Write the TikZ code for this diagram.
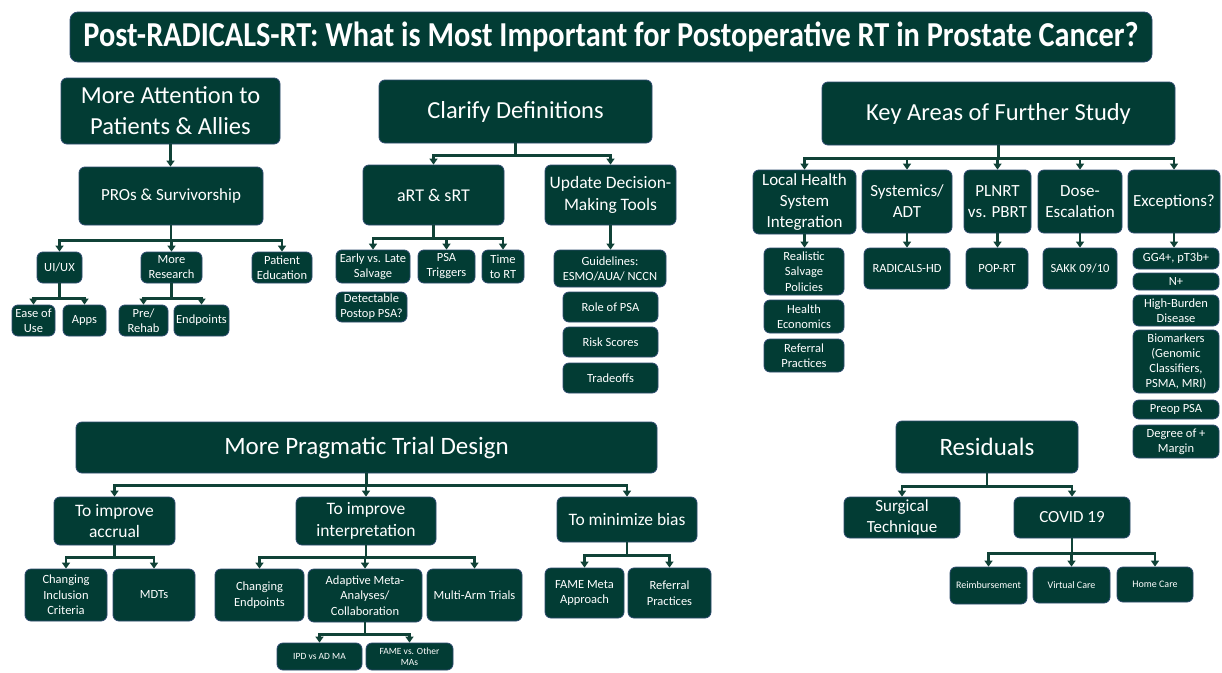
\documentclass[tikz,border=0pt]{standalone}
\usepackage{fontspec}
\setmainfont{Carlito}
\usetikzlibrary{arrows.meta}
\definecolor{bg}{RGB}{2,60,52}
\definecolor{bd}{RGB}{45,75,110}
\definecolor{ln}{RGB}{16,66,55}
\newcommand\fs[2]{\fontsize{#1}{#2}\selectfont}
\newcommand\bx[7]{\node[box,font=#6,minimum width={(#4)-(#2)},minimum height={(#5)-(#3)}] (#1) at ({((#2)+(#4))/2},{((#3)+(#5))/2}) {#7};}
\begin{document}
\begin{tikzpicture}[x=1pt,y=-1pt,
  box/.style={draw=bd,line width=0.8pt,fill=bg,rounded corners=6pt,text=white,align=center,inner sep=1pt},
  arr/.style={draw=ln,line width=2.6pt,-{Triangle[width=8pt,length=6pt]}}]
\fill[white] (0,0) rectangle (1222,672);
\useasboundingbox (0,0) rectangle (1222,672);
% title
\node[box,minimum width=1082pt,minimum height=50pt,rounded corners=8pt] (title) at (611,37)
  {\resizebox{1055pt}{\height}{\fs{35}{38}\bfseries Post-RADICALS-RT: What is Most Important for Postoperative RT in Prostate Cancer?}};
% --- Patients & Allies
\bx{A1}{61}{78}{280}{144}{\fs{24.5}{31}}{More Attention to\\Patients \& Allies}
\bx{A2}{79}{167}{263}{225}{\fs{17}{21}}{PROs \& Survivorship}
\bx{A3}{37}{252}{82}{283}{\fs{12.5}{15}}{UI/UX}
\bx{A4}{141}{252}{202}{283}{\fs{12.5}{15}}{More\\Research}
\bx{A5}{252}{252}{312}{283}{\fs{12.5}{15}}{Patient\\Education}
\bx{A6}{12}{305}{55}{336}{\fs{12.5}{15}}{Ease of\\Use}
\bx{A7}{63}{305}{106}{336}{\fs{12.5}{15}}{Apps}
\bx{A8}{119}{305}{168}{336}{\fs{12.5}{15}}{Pre/\\Rehab}
\bx{A9}{174}{305}{229}{336}{\fs{12.5}{15}}{Endpoints}
\draw[arr] (A1.south) -- (A1.south |- A2.north);
\foreach \c in {A3,A4,A5} \draw[arr] (A2.south) -- ++(0,15) -| (\c.north);
\foreach \c in {A6,A7} \draw[arr] (A3.south) -- ++(0,15) -| (\c.north);
\foreach \c in {A8,A9} \draw[arr] (A4.south) -- ++(0,15) -| (\c.north);
% --- Clarify Definitions
\bx{B1}{379}{80}{652}{143}{\fs{24.5}{31}}{Clarify Definitions}
\bx{B2}{363}{165}{504}{225}{\fs{18}{21}}{aRT \& sRT}
\bx{B3}{545}{165}{676}{225}{\fs{17.5}{21.5}}{Update Decision-\\Making Tools}
\bx{B4}{336}{250}{410}{283}{\fs{12.5}{15}}{Early vs. Late\\Salvage}
\bx{B5}{418}{250}{475}{283}{\fs{12.5}{15}}{PSA\\Triggers}
\bx{B6}{482}{250}{524}{283}{\fs{12.5}{15}}{Time\\to RT}
\bx{B7}{336}{292}{407}{322}{\fs{12.5}{15}}{Detectable\\Postop PSA?}
\bx{B8}{554}{250}{666}{287}{\fs{12.5}{15}}{Guidelines:\\ESMO/AUA/ NCCN}
\bx{B9}{563}{292}{658}{322}{\fs{12.5}{15}}{Role of PSA}
\bx{B10}{563}{327}{658}{357}{\fs{12.5}{15}}{Risk Scores}
\bx{B11}{563}{363}{658}{393}{\fs{12.5}{15}}{Tradeoffs}
\foreach \c in {B2,B3} \draw[arr] (B1.south) -- ++(0,12) -| (\c.north);
\foreach \c in {B4,B5,B6} \draw[arr] (B2.south) -- ++(0,13) -| (\c.north);
\draw[arr] (B3.south) -- (B3.south |- B8.north);
% --- Key Areas
\bx{C1}{822}{82}{1175}{145}{\fs{24.5}{31}}{Key Areas of Further Study}
\bx{C2}{753}{170}{856}{234}{\fs{17}{21}}{Local Health\\System\\Integration}
\bx{C3}{862}{170}{952}{233}{\fs{17}{21}}{Systemics/\\ADT}
\bx{C4}{964}{170}{1031}{233}{\fs{17}{21}}{PLNRT\\vs. PBRT}
\bx{C5}{1038}{170}{1122}{233}{\fs{17}{21}}{Dose-\\Escalation}
\bx{C6}{1128}{170}{1220}{233}{\fs{17}{21}}{Exceptions?}
\bx{C7}{764}{248}{844}{295}{\fs{12.5}{15.5}}{Realistic\\Salvage\\Policies}
\bx{C8}{764}{300}{844}{333}{\fs{12.5}{15.5}}{Health\\Economics}
\bx{C9}{764}{339}{844}{372}{\fs{12.5}{15.5}}{Referral\\Practices}
\bx{C10}{864}{248}{950}{289}{\fs{12.5}{15}}{RADICALS-HD}
\bx{C11}{966}{248}{1028}{289}{\fs{12.5}{15}}{POP-RT}
\bx{C12}{1043}{248}{1117}{289}{\fs{12.5}{15}}{SAKK 09/10}
\bx{C13}{1133}{248}{1219}{269}{\fs{12.5}{15}}{GG4+, pT3b+}
\bx{C14}{1133}{273}{1219}{290}{\fs{12.5}{15}}{N+}
\bx{C15}{1133}{295}{1219}{326}{\fs{12.5}{15}}{High-Burden\\Disease}
\bx{C16}{1133}{330}{1219}{393}{\fs{12.5}{15}}{Biomarkers\\(Genomic\\Classifiers,\\PSMA, MRI)}
\bx{C17}{1133}{400}{1219}{419}{\fs{12.5}{15}}{Preop PSA}
\bx{C18}{1133}{425}{1219}{458}{\fs{12.5}{15}}{Degree of +\\Margin}
\foreach \c in {C2,C3,C4,C5,C6} \draw[arr] (C1.south) -- ++(0,13) -| (\c.north);
\draw[arr] (C2.south) -- (C2.south |- C7.north);
\draw[arr] (C3.south) -- (C3.south |- C10.north);
\draw[arr] (C4.south) -- (C4.south |- C11.north);
\draw[arr] (C5.south) -- (C5.south |- C12.north);
\draw[arr] (C6.south) -- (C6.south |- C13.north);
% --- More Pragmatic Trial Design
\bx{D1}{76}{422}{657}{473}{\fs{25}{30}}{More Pragmatic Trial Design}
\bx{D2}{54}{497}{175}{545}{\fs{17.5}{21.5}}{To improve\\accrual}
\bx{D3}{296}{497}{436}{545}{\fs{17.5}{21.5}}{To improve\\interpretation}
\bx{D4}{557}{497}{697}{542}{\fs{17.5}{21.5}}{To minimize bias}
\bx{D5}{25}{569}{107}{621}{\fs{12.5}{15.5}}{Changing\\Inclusion\\Criteria}
\bx{D6}{113}{569}{195}{621}{\fs{12.5}{15.5}}{MDTs}
\bx{D7}{215}{569}{304}{621}{\fs{12.5}{15.5}}{Changing\\Endpoints}
\bx{D8}{308}{569}{422}{622}{\fs{12.5}{15.5}}{Adaptive Meta-\\Analyses/\\Collaboration}
\bx{D9}{427}{569}{522}{621}{\fs{12.5}{15.5}}{Multi-Arm Trials}
\bx{D10}{277}{643}{362}{670}{\fs{9.5}{11}}{IPD vs AD MA}
\bx{D11}{366}{643}{453}{670}{\fs{9.5}{11}}{FAME vs. Other\\MAs}
\bx{D12}{545}{568}{624}{618}{\fs{12.5}{15.5}}{FAME Meta\\Approach}
\bx{D13}{628}{568}{711}{618}{\fs{12.5}{15.5}}{Referral\\Practices}
\foreach \c in {D2,D3,D4} \draw[arr] (D1.south) -- ++(0,12) -| (\c.north);
\foreach \c in {D5,D6} \draw[arr] (D2.south) -- ++(0,12) -| (\c.north);
\foreach \c in {D7,D8,D9} \draw[arr] (D3.south) -- ++(0,12) -| (\c.north);
\foreach \c in {D10,D11} \draw[arr] (D8.south) -- ++(0,12) -| (\c.north);
\foreach \c in {D12,D13} \draw[arr] (D4.south) -- ++(0,13) -| (\c.north);
% --- Residuals
\bx{E1}{896}{421}{1078}{473}{\fs{25}{30}}{Residuals}
\bx{E2}{844}{497}{960}{538}{\fs{17}{21}}{Surgical\\Technique}
\bx{E3}{1014}{497}{1130}{538}{\fs{17}{21}}{COVID 19}
\bx{E4}{950}{567}{1027}{604}{\fs{10}{12}}{Reimbursement}
\bx{E5}{1033}{567}{1110}{603}{\fs{10}{12}}{Virtual Care}
\bx{E6}{1117}{567}{1193}{602}{\fs{10}{12}}{Home Care}
\foreach \c in {E2,E3} \draw[arr] (E1.south) -- ++(0,13) -| (\c.north);
\foreach \c in {E4,E5,E6} \draw[arr] (E3.south) -- ++(0,15) -| (\c.north);
\end{tikzpicture}
\end{document}
